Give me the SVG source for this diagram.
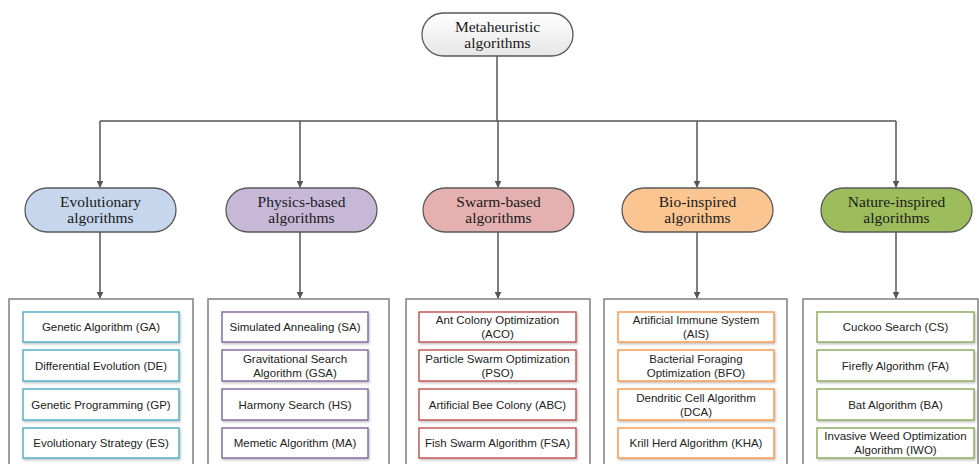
<svg xmlns="http://www.w3.org/2000/svg" width="979" height="464" viewBox="0 0 979 464">
<defs>
<linearGradient id="gTop" x1="0" y1="0" x2="0" y2="1"><stop offset="0" stop-color="#ffffff"/><stop offset="1" stop-color="#e6e6e6"/></linearGradient>
<marker id="arr" viewBox="0 0 10 10" refX="9" refY="5" markerWidth="7" markerHeight="7" markerUnits="userSpaceOnUse" orient="auto"><path d="M0,0 L10,5 L0,10 z" fill="#555"/></marker>
<filter id="sh" x="-5%" y="-10%" width="110%" height="130%"><feDropShadow dx="1" dy="1.5" stdDeviation="0.8" flood-color="#000" flood-opacity="0.25"/></filter>
</defs>
<style>
.pill{stroke:#595959;stroke-width:1.3}
.pt{font-family:"Liberation Serif","Times New Roman",serif;font-size:15.5px;fill:#1a1a1a;text-anchor:middle}
.cont{fill:#fff;stroke:#7f7f7f;stroke-width:1.5}
.ib{fill:#fff;stroke-width:1.4;filter:url(#sh)}
.it{font-family:"Liberation Sans",Arial,sans-serif;font-size:11.5px;fill:#222;text-anchor:middle}
.c{stroke:#555;stroke-width:1.5;fill:none}
.evo{stroke:#4bacc6}.phy{stroke:#8064a2}.swa{stroke:#c0504d}.bio{stroke:#f79646}.nat{stroke:#8aa85a}
</style>
<rect width="979" height="464" fill="#fff"/>
<g id="connectors">
<path class="c" d="M497,56 V121 M100,121 H896"/>
<path class="c" d="M100,121 V187" marker-end="url(#arr)"/>
<path class="c" d="M300,121 V187" marker-end="url(#arr)"/>
<path class="c" d="M498,121 V187" marker-end="url(#arr)"/>
<path class="c" d="M697,121 V187" marker-end="url(#arr)"/>
<path class="c" d="M896,121 V187" marker-end="url(#arr)"/>
<path class="c" d="M100,232 V298" marker-end="url(#arr)"/>
<path class="c" d="M300,232 V298" marker-end="url(#arr)"/>
<path class="c" d="M498,232 V298" marker-end="url(#arr)"/>
<path class="c" d="M697,232 V298" marker-end="url(#arr)"/>
<path class="c" d="M896,232 V298" marker-end="url(#arr)"/>
</g>
<g id="root">
<rect class="pill" x="422" y="13" width="151" height="43" rx="21.5" fill="url(#gTop)"/>
<text class="pt" x="497.5" y="32">Metaheuristic</text>
<text class="pt" x="497.5" y="48">algorithms</text>
</g>
<g id="cat-evolutionary">
<rect class="pill" x="25" y="188" width="151" height="44" rx="22" fill="#c6d6ec"/>
<text class="pt" x="100.5" y="207">Evolutionary</text>
<text class="pt" x="100.5" y="223">algorithms</text>
</g>
<g id="cat-physics">
<rect class="pill" x="226" y="188" width="151" height="44" rx="22" fill="#c8b8d8"/>
<text class="pt" x="301.5" y="207">Physics-based</text>
<text class="pt" x="301.5" y="223">algorithms</text>
</g>
<g id="cat-swarm">
<rect class="pill" x="423" y="188" width="151" height="44" rx="22" fill="#e5b0b0"/>
<text class="pt" x="498.5" y="207">Swarm-based</text>
<text class="pt" x="498.5" y="223">algorithms</text>
</g>
<g id="cat-bio">
<rect class="pill" x="622" y="188" width="151" height="44" rx="22" fill="#fbc592"/>
<text class="pt" x="697.5" y="207">Bio-inspired</text>
<text class="pt" x="697.5" y="223">algorithms</text>
</g>
<g id="cat-nature">
<rect class="pill" x="821" y="188" width="151" height="44" rx="22" fill="#9dbd5c"/>
<text class="pt" x="896.5" y="207">Nature-inspired</text>
<text class="pt" x="896.5" y="223">algorithms</text>
</g>
<g id="list-evolutionary">
<rect class="cont" x="9" y="299" width="184" height="175"/>
<rect class="ib evo" x="23" y="312" width="156" height="30"/><text class="it" x="101" y="331">Genetic Algorithm (GA)</text>
<rect class="ib evo" x="23" y="350" width="156" height="31"/><text class="it" x="101" y="369.5">Differential Evolution (DE)</text>
<rect class="ib evo" x="23" y="389" width="156" height="31"/><text class="it" x="101" y="408.5">Genetic Programming (GP)</text>
<rect class="ib evo" x="23" y="428" width="156" height="30"/><text class="it" x="101" y="447">Evolutionary Strategy (ES)</text>
</g>
<g id="list-physics">
<rect class="cont" x="208" y="299" width="181" height="175"/>
<rect class="ib phy" x="222" y="312" width="146" height="30"/><text class="it" x="295" y="331">Simulated Annealing (SA)</text>
<rect class="ib phy" x="222" y="350" width="146" height="31"/><text class="it" x="295" y="362.5">Gravitational Search</text><text class="it" x="295" y="376.5">Algorithm (GSA)</text>
<rect class="ib phy" x="222" y="389" width="146" height="31"/><text class="it" x="295" y="408.5">Harmony Search (HS)</text>
<rect class="ib phy" x="222" y="428" width="146" height="30"/><text class="it" x="295" y="447">Memetic Algorithm (MA)</text>
</g>
<g id="list-swarm">
<rect class="cont" x="406" y="299" width="184" height="175"/>
<rect class="ib swa" x="419" y="312" width="157" height="30"/><text class="it" x="497.5" y="324">Ant Colony Optimization</text><text class="it" x="497.5" y="338">(ACO)</text>
<rect class="ib swa" x="419" y="350" width="157" height="31"/><text class="it" x="497.5" y="362.5">Particle Swarm Optimization</text><text class="it" x="497.5" y="376.5">(PSO)</text>
<rect class="ib swa" x="419" y="389" width="157" height="31"/><text class="it" x="497.5" y="408.5">Artificial Bee Colony (ABC)</text>
<rect class="ib swa" x="419" y="428" width="157" height="30"/><text class="it" x="497.5" y="447">Fish Swarm Algorithm (FSA)</text>
</g>
<g id="list-bio">
<rect class="cont" x="604" y="299" width="183" height="175"/>
<rect class="ib bio" x="618" y="312" width="156" height="30"/><text class="it" x="696" y="324">Artificial Immune System</text><text class="it" x="696" y="338">(AIS)</text>
<rect class="ib bio" x="618" y="350" width="156" height="31"/><text class="it" x="696" y="362.5">Bacterial Foraging</text><text class="it" x="696" y="376.5">Optimization (BFO)</text>
<rect class="ib bio" x="618" y="389" width="156" height="31"/><text class="it" x="696" y="401.5">Dendritic Cell Algorithm</text><text class="it" x="696" y="415.5">(DCA)</text>
<rect class="ib bio" x="618" y="428" width="156" height="30"/><text class="it" x="696" y="447">Krill Herd Algorithm (KHA)</text>
</g>
<g id="list-nature">
<rect class="cont" x="803" y="299" width="175" height="175"/>
<rect class="ib nat" x="817" y="312" width="157" height="30"/><text class="it" x="895.5" y="331">Cuckoo Search (CS)</text>
<rect class="ib nat" x="817" y="350" width="157" height="31"/><text class="it" x="895.5" y="369.5">Firefly Algorithm (FA)</text>
<rect class="ib nat" x="817" y="389" width="157" height="31"/><text class="it" x="895.5" y="408.5">Bat Algorithm (BA)</text>
<rect class="ib nat" x="817" y="428" width="157" height="30"/><text class="it" x="895.5" y="440">Invasive Weed Optimization</text><text class="it" x="895.5" y="454">Algorithm (IWO)</text>
</g>
</svg>
